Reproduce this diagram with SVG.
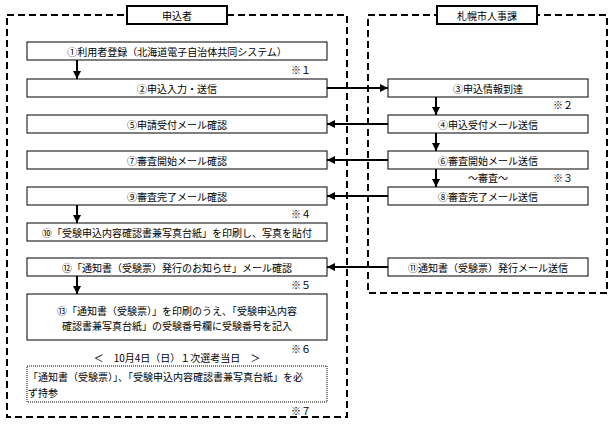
<svg xmlns="http://www.w3.org/2000/svg" width="616" height="431" viewBox="0 0 616 431">
<style>
text{font-family:"Noto Sans CJK JP","Noto Sans",sans-serif;font-size:10px;fill:#000;text-anchor:middle;dominant-baseline:central}
.n{fill:#fff;stroke:#000;stroke-width:1}
.h{fill:#fff;stroke:#000;stroke-width:2}
.lane{fill:none;stroke:#000;stroke-width:2;stroke-dasharray:7,4}
.c{stroke:#000;stroke-width:2;fill:none;marker-end:url(#a)}
.r{text-anchor:start}
</style>
<defs><marker id="a" viewBox="0 0 10 10" refX="10" refY="5" markerWidth="4" markerHeight="4" orient="auto"><path d="M0,0L10,5L0,10z"/></marker></defs>
<rect class="lane" x="7" y="15" width="340" height="402"/>
<rect class="lane" x="368" y="15" width="239" height="278"/>
<g id="h1"><rect class="h" x="127" y="6" width="100" height="18"/><text x="177" y="15">申込者</text></g>
<g id="h2"><rect class="h" x="437" y="6" width="100" height="18"/><text x="487" y="15">札幌市人事課</text></g>
<g id="n1"><rect class="n" x="27" y="42" width="300" height="18"/><text x="177" y="51">①利用者登録（北海道電子自治体共同システム）</text></g>
<g id="n2"><rect class="n" x="27" y="79" width="300" height="18"/><text x="177" y="88">②申込入力・送信</text></g>
<g id="n5"><rect class="n" x="27" y="115" width="300" height="18"/><text x="177" y="124">⑤申請受付メール確認</text></g>
<g id="n7"><rect class="n" x="27" y="151" width="300" height="18"/><text x="177" y="160">⑦審査開始メール確認</text></g>
<g id="n9"><rect class="n" x="27" y="187" width="300" height="18"/><text x="177" y="196">⑨審査完了メール確認</text></g>
<g id="n10"><rect class="n" x="27" y="223" width="300" height="18"/><text x="177" y="232">⑩「受験申込内容確認書兼写真台紙」を印刷し、写真を貼付</text></g>
<g id="n12"><rect class="n" x="27" y="258" width="300" height="18"/><text x="177" y="267">⑫「通知書（受験票）発行のお知らせ」メール確認</text></g>
<g id="n13"><rect class="n" x="27" y="294" width="300" height="46"/><text x="177" y="310">⑬「通知書（受験票）」を印刷のうえ、「受験申込内容</text><text x="177" y="325">確認書兼写真台紙」の受験番号欄に受験番号を記入</text></g>
<g id="date"><text x="177" y="357">＜　10月4日（日）１次選考当日　＞</text></g>
<g id="note"><rect x="27" y="366" width="300" height="36" fill="#fff" stroke="#000" stroke-width="1" stroke-dasharray="1,1"/><text class="r" x="28" y="376">「通知書（受験票）」、「受験申込内容確認書兼写真台紙」を必</text><text class="r" x="28" y="392">ず持参</text></g>
<g id="n3"><rect class="n" x="388" y="79" width="200" height="18"/><text x="488" y="88">③申込情報到達</text></g>
<g id="n4"><rect class="n" x="388" y="115" width="200" height="18"/><text x="488" y="124">④申込受付メール送信</text></g>
<g id="n6"><rect class="n" x="388" y="151" width="200" height="18"/><text x="488" y="160">⑥審査開始メール送信</text></g>
<g id="n8"><rect class="n" x="388" y="187" width="200" height="18"/><text x="488" y="196">⑧審査完了メール送信</text></g>
<g id="n11"><rect class="n" x="388" y="258" width="200" height="18"/><text x="488" y="267">⑪通知書（受験票）発行メール送信</text></g>
<g id="labels">
<text x="301" y="69">※１</text><text x="563" y="104">※２</text><text x="563" y="177">※３</text><text x="488" y="177">～審査～</text>
<text x="301" y="213">※４</text><text x="301" y="284">※５</text><text x="301" y="348">※６</text><text x="301" y="410">※７</text>
</g>
<g id="connectors">
<path class="c" d="M77,60V79"/><path class="c" d="M77,205V223"/><path class="c" d="M77,276V294"/>
<path class="c" d="M327,88H388"/>
<path class="c" d="M388,124H327"/><path class="c" d="M388,160H327"/><path class="c" d="M388,196H327"/><path class="c" d="M388,267H327"/>
<path class="c" d="M436,97V115"/><path class="c" d="M436,133V151"/><path class="c" d="M436,169V187"/>
</g>
</svg>
